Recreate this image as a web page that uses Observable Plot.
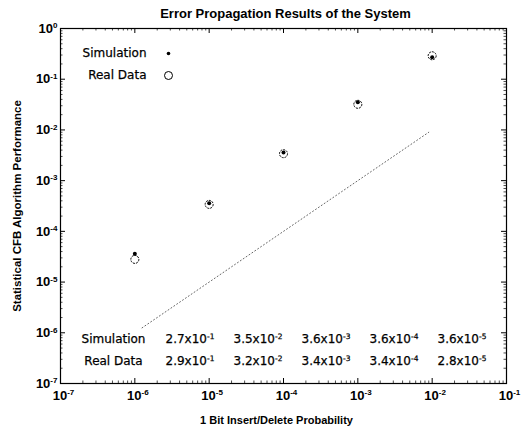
<!DOCTYPE html>
<html>
<head>
<meta charset="utf-8">
<script src="https://cdn.jsdelivr.net/npm/d3@7"></script>
<script src="https://cdn.jsdelivr.net/npm/@observablehq/plot@0.6"></script>
<style>
  html, body { margin: 0; padding: 0; background: white; }
</style>
</head>
<body>
<div id="chart"></div>
<script>
// ---- data ----
const probability = [1e-6, 1e-5, 1e-4, 1e-3, 1e-2];
const simulation = [3.6e-5, 3.6e-4, 3.6e-3, 3.5e-2, 2.7e-1];
const realData = [2.8e-5, 3.4e-4, 3.4e-3, 3.2e-2, 2.9e-1];
const refLineX = [1.25e-6, 9e-3];
const refLineY = [1.25e-6, 9e-3];
const decades = [1e-7, 1e-6, 1e-5, 1e-4, 1e-3, 1e-2, 1e-1, 1e0];
const tableSim = ["2.7x10^-1", "3.5x10^-2", "3.6x10^-3", "3.6x10^-4", "3.6x10^-5"];
const tableReal = ["2.9x10^-1", "3.2x10^-2", "3.4x10^-3", "3.4x10^-4", "2.8x10^-5"];

const minors = [];
for (const d of decades.slice(0, -1)) for (let k = 2; k <= 9; k++) minors.push(d * k);
const xMinors = minors.filter(v => v <= 1e-1);

const simPts = probability.map((x, i) => ({x, y: simulation[i]}));
const realPts = probability.map((x, i) => ({x, y: realData[i]}));
const refPts = refLineX.map((x, i) => ({x, y: refLineY[i]}));

const fmt = d => "10^" + Math.round(Math.log10(d));
const W = 528, H = 428, ML = 60, MR = 22, MT = 28, MB = 45;
const FW = W - ML - MR, FH = H - MT - MB;
const tableFont = "DejaVu Sans, sans-serif";
const heavy = {fill: "black", stroke: "black", strokeWidth: 0.25, lineAnchor: "middle"};

const tableMarks = [];
tableSim.forEach((t, i) => {
  tableMarks.push(Plot.text([t], {text: d => d, frameAnchor: "bottom-left", dx: 105 + 68 * i, dy: -44,
    textAnchor: "start", fontSize: 12, fontFamily: tableFont, ...heavy}));
});
tableReal.forEach((t, i) => {
  tableMarks.push(Plot.text([t], {text: d => d, frameAnchor: "bottom-left", dx: 105 + 68 * i, dy: -22,
    textAnchor: "start", fontSize: 12, fontFamily: tableFont, ...heavy}));
});

const chart = Plot.plot({
  width: W, height: H,
  marginLeft: ML, marginRight: MR, marginTop: MT, marginBottom: MB,
  style: {fontFamily: "Liberation Sans, Arial, sans-serif", background: "white", color: "black"},
  x: {type: "log", domain: [1e-7, 1e-1]},
  y: {type: "log", domain: [1e-7, 1]},
  marks: [
    Plot.frame({stroke: "black", strokeWidth: 1.2}),
    // major ticks inward
    Plot.tickX(decades.filter(v => v <= 1e-1), {x: d => d, insetTop: FH - 5, stroke: "black"}),
    Plot.tickX(decades.filter(v => v <= 1e-1), {x: d => d, insetBottom: FH - 5, stroke: "black"}),
    Plot.tickY(decades, {y: d => d, insetRight: FW - 5, stroke: "black"}),
    Plot.tickY(decades, {y: d => d, insetLeft: FW - 5, stroke: "black"}),
    // minor ticks
    Plot.tickX(xMinors, {x: d => d, insetTop: FH - 2.5, stroke: "black", strokeWidth: 0.7}),
    Plot.tickX(xMinors, {x: d => d, insetBottom: FH - 2.5, stroke: "black", strokeWidth: 0.7}),
    Plot.tickY(minors, {y: d => d, insetRight: FW - 2.5, stroke: "black", strokeWidth: 0.7}),
    Plot.tickY(minors, {y: d => d, insetLeft: FW - 2.5, stroke: "black", strokeWidth: 0.7}),
    // tick labels
    Plot.axisX({anchor: "bottom", ticks: decades.filter(v => v <= 1e-1), tickFormat: fmt, tickSize: 0,
      tickPadding: 7, dx: 3, fontSize: 13, fontWeight: "bold", label: null}),
    Plot.axisY({anchor: "left", ticks: decades, tickFormat: fmt, tickSize: 0,
      tickPadding: 3, fontSize: 13, fontWeight: "bold", label: null}),
    // axis labels & title
    Plot.text(["1 Bit Insert/Delete Probability"], {text: d => d, frameAnchor: "bottom", dy: 37, dx: -7,
      textAnchor: "middle", lineAnchor: "middle", fontSize: 11, fontWeight: "bold"}),
    Plot.text(["Statistical CFB Algorithm Performance"], {text: d => d, frameAnchor: "left", dx: -43, rotate: -90,
      textAnchor: "middle", lineAnchor: "middle", fontSize: 11.5, fontWeight: "bold"}),
    Plot.text(["Error Propagation Results of the System"], {text: d => d, frameAnchor: "top", dy: -15, dx: 2,
      textAnchor: "middle", lineAnchor: "middle", fontSize: 13, fontWeight: "bold"}),
    // reference line
    Plot.line(refPts, {x: "x", y: "y", stroke: "#666", strokeWidth: 1, strokeDasharray: "1,2.5"}),
    // data
    Plot.dot(realPts, {x: "x", y: "y", r: 4, stroke: "black", strokeWidth: 1, fill: "none", strokeDasharray: "2,1"}),
    Plot.dot(simPts, {x: "x", y: "y", r: 2, fill: "black", stroke: "none"}),
    // legend
    Plot.text(["Simulation"], {text: d => d, frameAnchor: "top-left", dx: 86, dy: 25, textAnchor: "end",
      fontSize: 12, fontFamily: tableFont, ...heavy}),
    Plot.text(["Real Data"], {text: d => d, frameAnchor: "top-left", dx: 86, dy: 47, textAnchor: "end",
      fontSize: 12, fontFamily: tableFont, ...heavy}),
    Plot.dot([0], {frameAnchor: "top-left", dx: 108, dy: 25, r: 1.8, fill: "black", stroke: "none"}),
    Plot.dot([0], {frameAnchor: "top-left", dx: 108, dy: 47, r: 4, fill: "none", stroke: "black", strokeWidth: 1}),
    // table
    Plot.text(["Simulation"], {text: d => d, frameAnchor: "bottom-left", dx: 53, dy: -44,
      textAnchor: "middle", fontSize: 12, fontFamily: tableFont, ...heavy}),
    Plot.text(["Real Data"], {text: d => d, frameAnchor: "bottom-left", dx: 53, dy: -22,
      textAnchor: "middle", fontSize: 12, fontFamily: tableFont, ...heavy}),
    ...tableMarks
  ]
});

// superscript post-processing
d3.select(chart).selectAll("text").each(function() {
  const el = d3.select(this);
  if (this.querySelector("tspan")) return;
  const t = this.textContent;
  if (!t.includes("^")) return;
  const [base, exp] = t.split("^");
  el.text(null);
  el.append("tspan").text(base);
  el.append("tspan").attr("dy", "-0.55em").attr("font-size", "62%").text(exp);
});
document.getElementById("chart").appendChild(chart);
</script>
</body>
</html>
